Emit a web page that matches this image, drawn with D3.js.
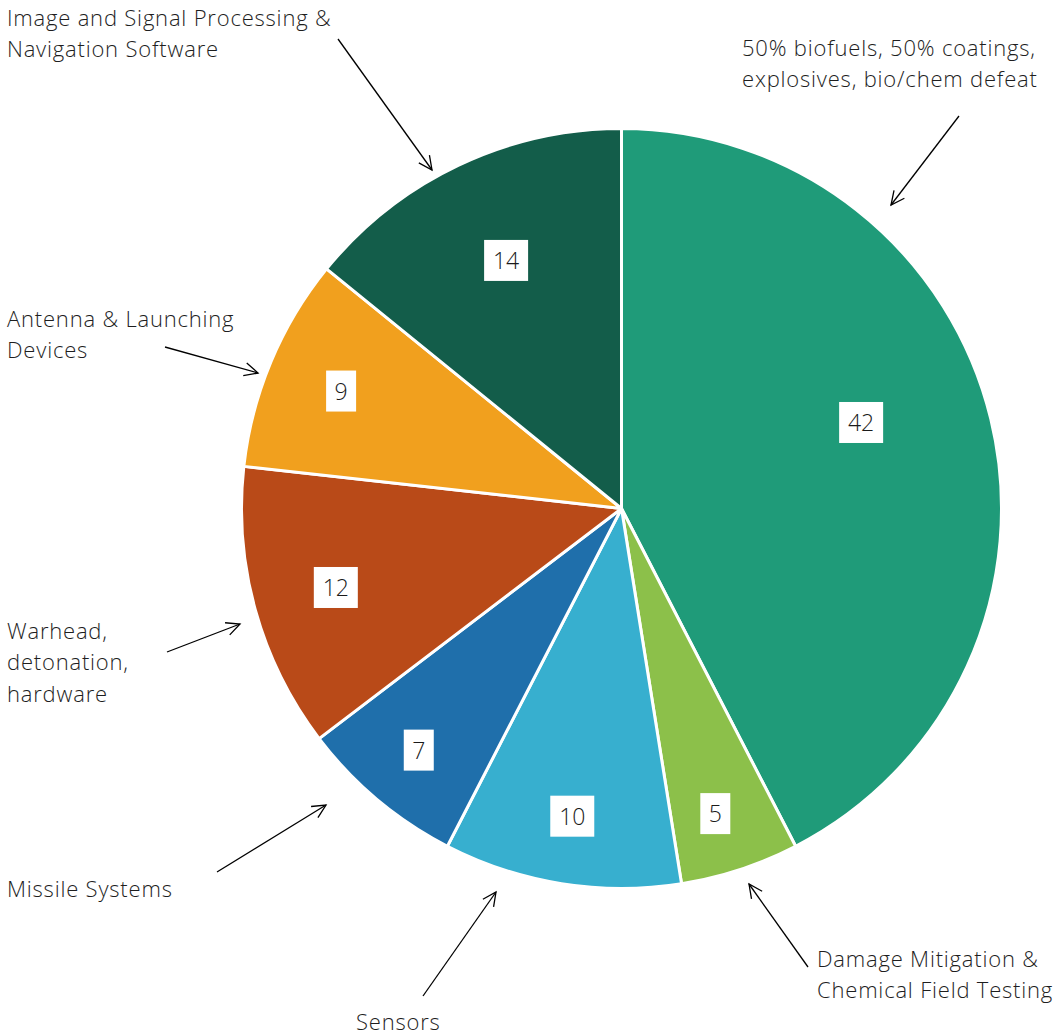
<!DOCTYPE html>
<html><head><meta charset="utf-8">
<script src="https://cdn.jsdelivr.net/npm/d3@7"></script>
<style>body{margin:0;background:#fff}svg{display:block}text{font-family:"Open Sans",sans-serif}</style>
</head><body><svg id="c" width="1058" height="1036"></svg>
<script>
const categories = [
  "50% biofuels, 50% coatings,|explosives, bio/chem defeat",
  "Damage Mitigation &|Chemical Field Testing",
  "Sensors",
  "Missile Systems",
  "Warhead,|detonation,|hardware",
  "Antenna & Launching|Devices",
  "Image and Signal Processing &|Navigation Software"
];
const values = [42, 5, 10, 7, 12, 9, 14];
const colors = ["#1f9b79", "#8cc04a", "#37afcf", "#1f6fab", "#b94a18", "#f1a01e", "#135d4a"];

// layout (not data)
const cx = 621.5, cy = 508.5, R = 380;
const labelPos = [ {f:0.46, r:0.67}, {f:0.56, r:0.84}, {f:0.5, r:0.82}, {f:0.5, r:0.83}, {f:0.5, r:0.78}, {f:0.5, r:0.80}, {f:0.51, r:0.72} ];
const textPos = [ {x:742, y:55.5}, {x:817, y:966.7}, {x:356, y:1030}, {x:7, y:897}, {x:7, y:638.5}, {x:7, y:326.8}, {x:7, y:25.5} ];
const arrows = [ [959,116,891,205], [808,967,749,884], [423,996,496,892], [217,872,326,805], [167,652,240,624], [165,347,258,373], [338,39,432,170] ];
const lineH = 31.6;

const svg = d3.select("#c");
const g = svg.append("g").attr("transform", `translate(${cx},${cy})`);
const pie = d3.pie().sort(null).value(d => d)(values);
const arc = d3.arc().innerRadius(0).outerRadius(R);
g.selectAll("path.s").data(pie).join("path").attr("class","s")
  .attr("d", arc).attr("fill", (d,i) => colors[i])
  .attr("stroke", "#fff").attr("stroke-width", 3).attr("stroke-linejoin","round");

pie.forEach((d,i) => {
  const p = labelPos[i];
  const a = d.startAngle + (d.endAngle - d.startAngle) * p.f;
  const x = Math.sin(a) * R * p.r, y = -Math.cos(a) * R * p.r;
  const s = String(values[i]);
  const w = s.length > 1 ? 44 : 30, h = 41;
  g.append("rect").attr("x", x - w/2).attr("y", y - h/2).attr("width", w).attr("height", h).attr("fill", "#fff");
  g.append("text").attr("x", x).attr("y", y + 8.5).attr("text-anchor","middle")
    .attr("font-size", 23).attr("font-weight", 350).attr("fill", "#1a1a1a").text(s);
});

categories.forEach((c,i) => {
  const t = textPos[i];
  const tx = svg.append("text").attr("x", t.x).attr("y", t.y).attr("font-size", 22).attr("font-weight", 350)
    .attr("letter-spacing", 0.8).attr("fill", "#1e1e1e");
  c.split("|").forEach((ln, k) => {
    tx.append("tspan").attr("x", t.x).attr("y", t.y + k * lineH).text(ln);
  });
});

arrows.forEach(([x1,y1,x2,y2]) => {
  svg.append("line").attr("x1",x1).attr("y1",y1).attr("x2",x2).attr("y2",y2).attr("stroke","#000").attr("stroke-width",1.3);
  const ang = Math.atan2(y2-y1, x2-x1), L = 15, sp = 0.45;
  const p = [ang + Math.PI - sp, ang + Math.PI + sp].map(b => [x2 + L*Math.cos(b), y2 + L*Math.sin(b)]);
  svg.append("path").attr("d", `M${p[0][0]},${p[0][1]}L${x2},${y2}L${p[1][0]},${p[1][1]}`)
    .attr("fill","none").attr("stroke","#000").attr("stroke-width",1.3);
});
</script></body></html>
